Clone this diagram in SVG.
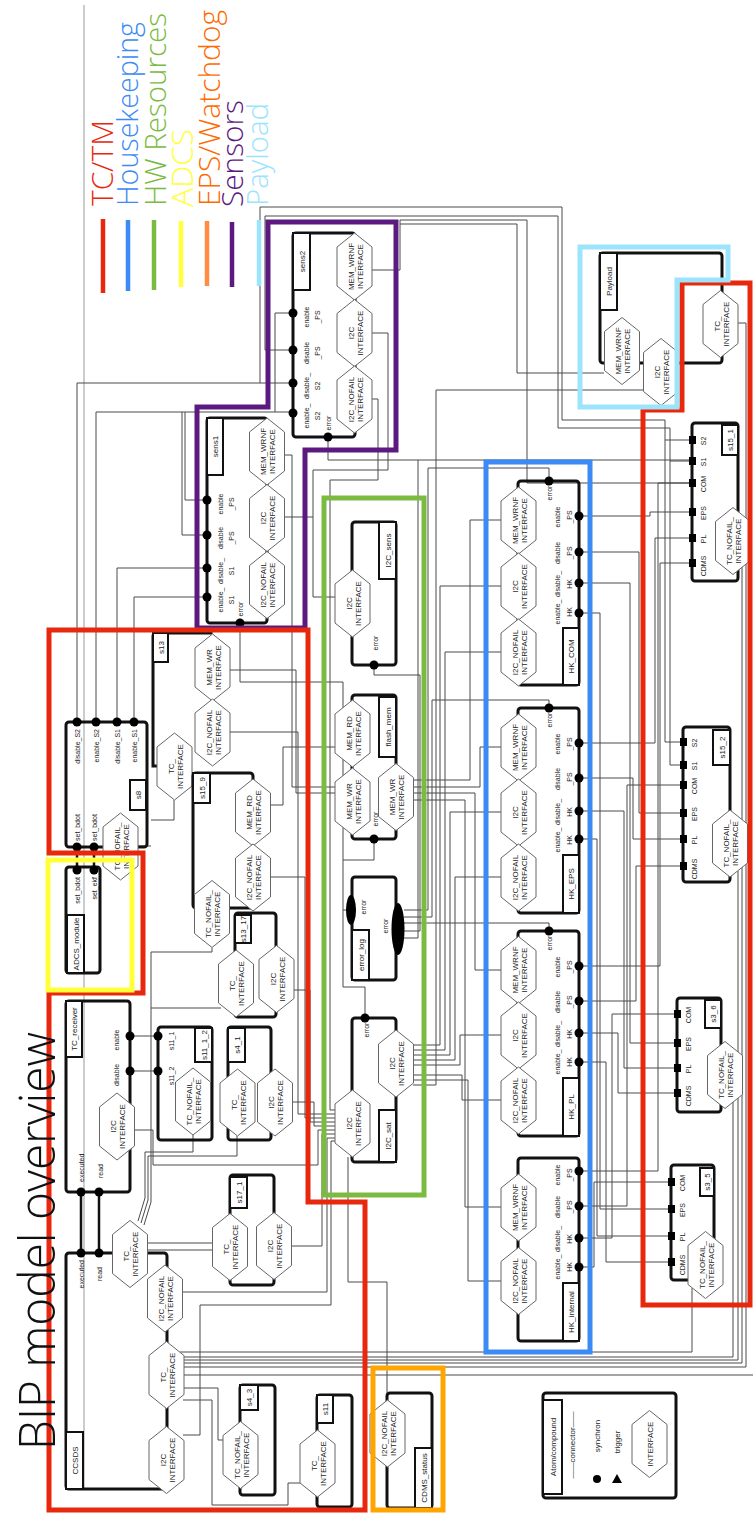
<svg xmlns="http://www.w3.org/2000/svg" width="753" height="1514" viewBox="0 0 753 1514">
<defs>
<style>
text{font-family:"Liberation Sans",Arial,sans-serif}
.big{font-family:"Open Sans","Liberation Sans",Arial,sans-serif;font-weight:300}
.w{fill:none;stroke:#4a4a4a;stroke-width:1}
.g{fill:none;stroke:#aaa;stroke-width:1.2}
.k{fill:none;stroke:#111;stroke-width:2.5}
.bx{fill:none;stroke:#111;stroke-width:3}
.tab{fill:#fff;stroke:#111;stroke-width:2}
.hx{fill:#fff;stroke:#666;stroke-width:1}
.t{font-size:8px;fill:#222;text-anchor:middle}
.pl{font-size:7px;fill:#222;text-anchor:middle}
.pe{font-size:7px;fill:#222;text-anchor:end}
.ps{font-size:7px;fill:#222;text-anchor:start}
.pd{fill:#000}
.reg{fill:none;stroke-width:5}
</style>
<polygon id="hx" points="0,-33.5 17.5,-19.5 17.5,19.5 0,33.5 -17.5,19.5 -17.5,-19.5"/>
</defs>
<rect width="753" height="1514" fill="#fff"/>

<g id="connectors">
<path class="g" d="M84,5V1489"/>
<path class="w" d="M77,722V383H293M96,722V412H293M117,722V568H207M134,722V597H207M207,500H185V412M207,535H182V412M293,313H275V412"/>
<path class="w" d="M260,383V207H562V420H665V742H683M665,440H692M293,350H265V216H558V428H670V765H683M670,461H692M372,270H400V224H517V373H604M400,224V220H527V483H692"/>
<path class="w" d="M372,333H388V470H313V597H335M284,517H313M372,399H378V480H330V1110H335M328,437V460H692"/>
<path class="w" d="M284,455H292V787H335M230,670H296V793H335M270,805H283V747H335"/>
<path class="w" d="M413,780H470V520H501M413,787H480V747H501M413,793H475V970H501M413,800H465V1207H501"/>
<path class="w" d="M413,1045H440V586H501M413,1050H445V652H501M413,1055H450V812H501M413,1060H455V877H501M413,1065H460V1035H501M413,1075H462V1100H501M413,1080H468V1281H501M413,1085H436V390H645"/>
<path class="w" d="M404,910H428V468H549V477M404,917H432V700H549V704M404,923H549V927M374,665V675H420V931H404M404,938H418V460M374,839V860H343V987H365V1014M343,910H346M240,623V682H343V860"/>
<path class="w" d="M579,516H650V512H692M579,552H639V813H683M579,583H630V1043H677M579,613H600V1209H671M579,743H655V538H692M579,778H633V839H683M579,811H624V1068H677M579,839H597V1236H671M579,966H660V563H692M579,1001H636V866H683M579,1033H618V1093H677M579,1062H606V1262H671M579,1171H658V483H692M579,1206H627V785H683M579,1238H612V1014H677M579,1267H594V1182H671"/>
<path class="w" d="M180,1352H692V1288M180,1357H733V1102M180,1360H738V871M180,1363H742V566M180,1367H746V323H738M180,1375H753"/>
<path class="w" d="M183,1388H218V1440H223M183,1400H212V1505H288V1483H300M183,1435H200V1305H331V1141H336M182,1292H327V1138H335M291,1246H322V1134H335M292,1102H314V1126H335M134,1130H153V1165H318V1130H335M293,990H310V1122H335M270,877H305V1118H335M230,732H298V1114H335"/>
<path class="w" d="M138,1221L145,1198V1152H193V1135M141,1223L148,1200V1156H237V1136M144,1225L151,1202V952H212V948M147,1243H213M147,1250H213M151,1008H221M138,846H151M174,800V820H151"/>
<path class="w" d="M387,1400V1282H348V1157M130,1036H158M130,1071H158"/>
<path class="k" d="M81,1192V1253M99,1192V1253M77,847V870M94,847V870"/>
</g>

<g id="sens2">
<rect class="bx" x="293" y="233" width="62" height="204" rx="3"/>
<rect class="tab" x="293" y="233" width="17" height="57"/>
<text class="t" transform="translate(304.5,261.5) rotate(-90)">sens2</text>
<use href="#hx" class="hx" x="354.5" y="266.5"/><text class="t" transform="translate(354.5,266.5) rotate(-90)"><tspan x="0" y="-1">MEM_WRNF</tspan><tspan x="0" y="8">INTERFACE</tspan></text>
<use href="#hx" class="hx" x="354.5" y="333"/><text class="t" transform="translate(354.5,333) rotate(-90)"><tspan x="0" y="-1">I2C</tspan><tspan x="0" y="8">INTERFACE</tspan></text>
<use href="#hx" class="hx" x="354.5" y="399.5"/><text class="t" transform="translate(354.5,399.5) rotate(-90)"><tspan x="0" y="-1">I2C_NOFAIL</tspan><tspan x="0" y="8">INTERFACE</tspan></text>
<circle class="pd" cx="293" cy="313" r="4.5"/><circle class="pd" cx="293" cy="350" r="4.5"/><circle class="pd" cx="293" cy="383" r="4.5"/><circle class="pd" cx="293" cy="413" r="4.5"/><circle class="pd" cx="328" cy="437" r="4.5"/>
<text class="pl" transform="translate(309,317) rotate(-90)"><tspan x="0">enable</tspan><tspan x="0" y="11">_PS</tspan></text>
<text class="pl" transform="translate(309,353) rotate(-90)"><tspan x="0">disable</tspan><tspan x="0" y="11">_PS</tspan></text>
<text class="pl" transform="translate(309,386) rotate(-90)"><tspan x="0">disable_</tspan><tspan x="0" y="11">S2</tspan></text>
<text class="pl" transform="translate(309,416) rotate(-90)"><tspan x="0">enable_</tspan><tspan x="0" y="11">S2</tspan></text>
<text class="pl" transform="translate(331,423) rotate(-90)">error</text>
</g>

<g id="sens1">
<rect class="bx" x="207" y="418" width="60" height="205" rx="3"/>
<rect class="tab" x="207" y="418" width="16" height="57"/>
<text class="t" transform="translate(218,446.5) rotate(-90)">sens1</text>
<use href="#hx" class="hx" x="267" y="451.5"/><text class="t" transform="translate(267,451.5) rotate(-90)"><tspan x="0" y="-1">MEM_WRNF</tspan><tspan x="0" y="8">INTERFACE</tspan></text>
<use href="#hx" class="hx" x="267" y="518"/><text class="t" transform="translate(267,518) rotate(-90)"><tspan x="0" y="-1">I2C</tspan><tspan x="0" y="8">INTERFACE</tspan></text>
<use href="#hx" class="hx" x="267" y="585"/><text class="t" transform="translate(267,585) rotate(-90)"><tspan x="0" y="-1">I2C_NOFAIL</tspan><tspan x="0" y="8">INTERFACE</tspan></text>
<circle class="pd" cx="207" cy="500" r="4.5"/><circle class="pd" cx="207" cy="535" r="4.5"/><circle class="pd" cx="207" cy="568" r="4.5"/><circle class="pd" cx="207" cy="597" r="4.5"/><circle class="pd" cx="240" cy="623" r="4.5"/>
<text class="pl" transform="translate(223,504) rotate(-90)"><tspan x="0">enable</tspan><tspan x="0" y="11">_PS</tspan></text>
<text class="pl" transform="translate(223,538) rotate(-90)"><tspan x="0">disable</tspan><tspan x="0" y="11">_PS</tspan></text>
<text class="pl" transform="translate(223,571) rotate(-90)"><tspan x="0">disable_</tspan><tspan x="0" y="11">S1</tspan></text>
<text class="pl" transform="translate(223,600) rotate(-90)"><tspan x="0">enable_</tspan><tspan x="0" y="11">S1</tspan></text>
<text class="pl" transform="translate(243,609) rotate(-90)">error</text>
</g>

<g id="Payload">
<rect class="bx" x="600" y="253" width="122" height="110" rx="3"/>
<rect class="tab" x="600" y="253" width="17" height="57"/>
<text class="t" transform="translate(611.5,281.5) rotate(-90)">Payload</text>
<use href="#hx" class="hx" x="622" y="351"/><text class="t" transform="translate(622,351) rotate(-90)"><tspan x="0" y="-1">MEM_WRNF</tspan><tspan x="0" y="8">INTERFACE</tspan></text>
<use href="#hx" class="hx" x="661" y="372"/><text class="t" transform="translate(661,372) rotate(-90)"><tspan x="0" y="-1">I2C</tspan><tspan x="0" y="8">INTERFACE</tspan></text>
<use href="#hx" class="hx" x="720.5" y="324"/><text class="t" transform="translate(720.5,324) rotate(-90)"><tspan x="0" y="-1">TC_</tspan><tspan x="0" y="8">INTERFACE</tspan></text>
</g>

<g id="s15_1">
<rect class="bx" x="692" y="423" width="46" height="158" rx="3"/>
<rect class="tab" x="722" y="425" width="16" height="30"/>
<text class="t" transform="translate(733,440) rotate(-90)">s15_1</text>
<use href="#hx" class="hx" x="733" y="541"/><text class="t" transform="translate(733,541) rotate(-90)"><tspan x="0" y="-1">TC_NOFAIL_</tspan><tspan x="0" y="8">INTERFACE</tspan></text>
<path class="pd" d="M689,436h7v8h-7zM689,457h7v8h-7zM689,479h7v8h-7zM689,508h7v8h-7zM689,534h7v8h-7zM689,559h7v8h-7z"/>
<text class="pl" transform="translate(706,441) rotate(-90)">S2</text><text class="pl" transform="translate(706,462) rotate(-90)">S1</text><text class="pl" transform="translate(706,484) rotate(-90)">COM</text><text class="pl" transform="translate(706,513) rotate(-90)">EPS</text><text class="pl" transform="translate(706,539) rotate(-90)">PL</text><text class="pl" transform="translate(706,566) rotate(-90)">CDMS</text>
</g>

<g id="s15_2">
<rect class="bx" x="683" y="727" width="47" height="155" rx="3"/>
<rect class="tab" x="713" y="730" width="17" height="35"/>
<text class="t" transform="translate(724.5,747.5) rotate(-90)">s15_2</text>
<use href="#hx" class="hx" x="730" y="843.5"/><text class="t" transform="translate(730,843.5) rotate(-90)"><tspan x="0" y="-1">TC_NOFAIL_</tspan><tspan x="0" y="8">INTERFACE</tspan></text>
<path class="pd" d="M680,738h7v8h-7zM680,761h7v8h-7zM680,781h7v8h-7zM680,809h7v8h-7zM680,835h7v8h-7zM680,862h7v8h-7z"/>
<text class="pl" transform="translate(697,743) rotate(-90)">S2</text><text class="pl" transform="translate(697,766) rotate(-90)">S1</text><text class="pl" transform="translate(697,786) rotate(-90)">COM</text><text class="pl" transform="translate(697,814) rotate(-90)">EPS</text><text class="pl" transform="translate(697,840) rotate(-90)">PL</text><text class="pl" transform="translate(697,869) rotate(-90)">CDMS</text>
</g>

<g id="s3_6">
<rect class="bx" x="677" y="998" width="44" height="114" rx="3"/>
<rect class="tab" x="705" y="1000" width="16" height="28"/>
<text class="t" transform="translate(716,1014) rotate(-90)">s3_6</text>
<use href="#hx" class="hx" x="725" y="1075"/><text class="t" transform="translate(725,1075) rotate(-90)"><tspan x="0" y="-1">TC_NOFAIL_</tspan><tspan x="0" y="8">INTERFACE</tspan></text>
<path class="pd" d="M674,1010h7v8h-7zM674,1039h7v8h-7zM674,1064h7v8h-7zM674,1089h7v8h-7z"/>
<text class="pl" transform="translate(691,1015) rotate(-90)">COM</text><text class="pl" transform="translate(691,1044) rotate(-90)">EPS</text><text class="pl" transform="translate(691,1069) rotate(-90)">PL</text><text class="pl" transform="translate(691,1096) rotate(-90)">CDMS</text>
</g>

<g id="s3_5">
<rect class="bx" x="671" y="1165" width="43" height="115" rx="3"/>
<rect class="tab" x="700" y="1168" width="14" height="28"/>
<text class="t" transform="translate(710,1182) rotate(-90)">s3_5</text>
<use href="#hx" class="hx" x="705.5" y="1265"/><text class="t" transform="translate(705.5,1265) rotate(-90)"><tspan x="0" y="-1">TC_NOFAIL_</tspan><tspan x="0" y="8">INTERFACE</tspan></text>
<path class="pd" d="M668,1178h7v8h-7zM668,1205h7v8h-7zM668,1232h7v8h-7zM668,1258h7v8h-7z"/>
<text class="pl" transform="translate(685,1183) rotate(-90)">COM</text><text class="pl" transform="translate(685,1210) rotate(-90)">EPS</text><text class="pl" transform="translate(685,1237) rotate(-90)">PL</text><text class="pl" transform="translate(685,1265) rotate(-90)">CDMS</text>
</g>

<g id="HK_COM">
<rect class="bx" x="518" y="481" width="61" height="204" rx="3"/>
<rect class="tab" x="563" y="628" width="16" height="57"/>
<text class="t" transform="translate(574,656.5) rotate(-90)">HK_COM</text>
<use href="#hx" class="hx" x="518.5" y="520.5"/><text class="t" transform="translate(518.5,520.5) rotate(-90)"><tspan x="0" y="-1">MEM_WRNF</tspan><tspan x="0" y="8">INTERFACE</tspan></text>
<use href="#hx" class="hx" x="518.5" y="586.5"/><text class="t" transform="translate(518.5,586.5) rotate(-90)"><tspan x="0" y="-1">I2C</tspan><tspan x="0" y="8">INTERFACE</tspan></text>
<use href="#hx" class="hx" x="518.5" y="652.5"/><text class="t" transform="translate(518.5,652.5) rotate(-90)"><tspan x="0" y="-1">I2C_NOFAIL</tspan><tspan x="0" y="8">INTERFACE</tspan></text>
<circle class="pd" cx="579" cy="516" r="4.5"/><circle class="pd" cx="579" cy="552" r="4.5"/><circle class="pd" cx="579" cy="583" r="4.5"/><circle class="pd" cx="579" cy="613" r="4.5"/><circle class="pd" cx="549" cy="481" r="4.5"/>
<text class="pl" transform="translate(560,517) rotate(-90)"><tspan x="0">enable</tspan><tspan x="0" y="12">_PS</tspan></text>
<text class="pl" transform="translate(560,553) rotate(-90)"><tspan x="0">disable</tspan><tspan x="0" y="12">_PS</tspan></text>
<text class="pl" transform="translate(560,584) rotate(-90)"><tspan x="0">disable_</tspan><tspan x="0" y="12">HK</tspan></text>
<text class="pl" transform="translate(560,612) rotate(-90)"><tspan x="0">enable_</tspan><tspan x="0" y="12">HK</tspan></text>
<text class="pl" transform="translate(552,493) rotate(-90)">error</text>
</g>

<g id="HK_EPS">
<rect class="bx" x="518" y="708" width="61" height="205" rx="3"/>
<rect class="tab" x="563" y="855" width="16" height="58"/>
<text class="t" transform="translate(574,884) rotate(-90)">HK_EPS</text>
<use href="#hx" class="hx" x="518.5" y="747.5"/><text class="t" transform="translate(518.5,747.5) rotate(-90)"><tspan x="0" y="-1">MEM_WRNF</tspan><tspan x="0" y="8">INTERFACE</tspan></text>
<use href="#hx" class="hx" x="518.5" y="812.5"/><text class="t" transform="translate(518.5,812.5) rotate(-90)"><tspan x="0" y="-1">I2C</tspan><tspan x="0" y="8">INTERFACE</tspan></text>
<use href="#hx" class="hx" x="518.5" y="877.5"/><text class="t" transform="translate(518.5,877.5) rotate(-90)"><tspan x="0" y="-1">I2C_NOFAIL</tspan><tspan x="0" y="8">INTERFACE</tspan></text>
<circle class="pd" cx="579" cy="743" r="4.5"/><circle class="pd" cx="579" cy="778" r="4.5"/><circle class="pd" cx="579" cy="811" r="4.5"/><circle class="pd" cx="579" cy="839" r="4.5"/><circle class="pd" cx="549" cy="708" r="4.5"/>
<text class="pl" transform="translate(560,744) rotate(-90)"><tspan x="0">enable</tspan><tspan x="0" y="12">_PS</tspan></text>
<text class="pl" transform="translate(560,779) rotate(-90)"><tspan x="0">disable</tspan><tspan x="0" y="12">_PS</tspan></text>
<text class="pl" transform="translate(560,812) rotate(-90)"><tspan x="0">disable_</tspan><tspan x="0" y="12">HK</tspan></text>
<text class="pl" transform="translate(560,840) rotate(-90)"><tspan x="0">enable_</tspan><tspan x="0" y="12">HK</tspan></text>
<text class="pl" transform="translate(552,720) rotate(-90)">error</text>
</g>

<g id="HK_PL">
<rect class="bx" x="518" y="931" width="61" height="205" rx="3"/>
<rect class="tab" x="563" y="1078" width="16" height="58"/>
<text class="t" transform="translate(574,1107) rotate(-90)">HK_PL</text>
<use href="#hx" class="hx" x="518.5" y="970"/><text class="t" transform="translate(518.5,970) rotate(-90)"><tspan x="0" y="-1">MEM_WRNF</tspan><tspan x="0" y="8">INTERFACE</tspan></text>
<use href="#hx" class="hx" x="518.5" y="1035.5"/><text class="t" transform="translate(518.5,1035.5) rotate(-90)"><tspan x="0" y="-1">I2C</tspan><tspan x="0" y="8">INTERFACE</tspan></text>
<use href="#hx" class="hx" x="518.5" y="1100.5"/><text class="t" transform="translate(518.5,1100.5) rotate(-90)"><tspan x="0" y="-1">I2C_NOFAIL</tspan><tspan x="0" y="8">INTERFACE</tspan></text>
<circle class="pd" cx="579" cy="966" r="4.5"/><circle class="pd" cx="579" cy="1001" r="4.5"/><circle class="pd" cx="579" cy="1033" r="4.5"/><circle class="pd" cx="579" cy="1062" r="4.5"/><circle class="pd" cx="549" cy="931" r="4.5"/>
<text class="pl" transform="translate(560,967) rotate(-90)"><tspan x="0">enable</tspan><tspan x="0" y="12">_PS</tspan></text>
<text class="pl" transform="translate(560,1002) rotate(-90)"><tspan x="0">disable</tspan><tspan x="0" y="12">_PS</tspan></text>
<text class="pl" transform="translate(560,1034) rotate(-90)"><tspan x="0">disable_</tspan><tspan x="0" y="12">HK</tspan></text>
<text class="pl" transform="translate(560,1062) rotate(-90)"><tspan x="0">enable_</tspan><tspan x="0" y="12">HK</tspan></text>
<text class="pl" transform="translate(552,943) rotate(-90)">error</text>
</g>

<g id="HK_internal">
<rect class="bx" x="518" y="1158" width="61" height="183" rx="3"/>
<rect class="tab" x="563" y="1283" width="16" height="58"/>
<text class="t" transform="translate(574,1312) rotate(-90)">HK_internal</text>
<use href="#hx" class="hx" x="518.5" y="1207.5"/><text class="t" transform="translate(518.5,1207.5) rotate(-90)"><tspan x="0" y="-1">MEM_WRNF</tspan><tspan x="0" y="8">INTERFACE</tspan></text>
<use href="#hx" class="hx" x="518.5" y="1281"/><text class="t" transform="translate(518.5,1281) rotate(-90)"><tspan x="0" y="-1">I2C_NOFAIL</tspan><tspan x="0" y="8">INTERFACE</tspan></text>
<circle class="pd" cx="579" cy="1171" r="4.5"/><circle class="pd" cx="579" cy="1206" r="4.5"/><circle class="pd" cx="579" cy="1238" r="4.5"/><circle class="pd" cx="579" cy="1267" r="4.5"/>
<text class="pl" transform="translate(560,1175) rotate(-90)"><tspan x="0">enable</tspan><tspan x="0" y="12">_PS</tspan></text>
<text class="pl" transform="translate(560,1207) rotate(-90)"><tspan x="0">disable</tspan><tspan x="0" y="12">_PS</tspan></text>
<text class="pl" transform="translate(560,1239) rotate(-90)"><tspan x="0">disable_</tspan><tspan x="0" y="12">HK</tspan></text>
<text class="pl" transform="translate(560,1267) rotate(-90)"><tspan x="0">enable_</tspan><tspan x="0" y="12">HK</tspan></text>
</g>

<g id="I2C_sens">
<rect class="bx" x="352" y="522" width="44" height="143" rx="3"/>
<rect class="tab" x="379" y="522" width="17" height="57"/>
<text class="t" transform="translate(390.5,550.5) rotate(-90)">I2C_sens</text>
<use href="#hx" class="hx" x="352.5" y="603.5"/><text class="t" transform="translate(352.5,603.5) rotate(-90)"><tspan x="0" y="-1">I2C</tspan><tspan x="0" y="8">INTERFACE</tspan></text>
<circle class="pd" cx="374" cy="665" r="4.5"/>
<text class="pl" transform="translate(378,643) rotate(-90)">error</text>
</g>

<g id="flash_mem">
<rect class="bx" x="352" y="695" width="44" height="144" rx="3"/>
<rect class="tab" x="379" y="697" width="17" height="60"/>
<text class="t" transform="translate(390.5,727) rotate(-90)">flash_mem</text>
<use href="#hx" class="hx" x="352.5" y="733.5"/><text class="t" transform="translate(352.5,733.5) rotate(-90)"><tspan x="0" y="-1">MEM_RD</tspan><tspan x="0" y="8">INTERFACE</tspan></text>
<use href="#hx" class="hx" x="352.5" y="801.5"/><text class="t" transform="translate(352.5,801.5) rotate(-90)"><tspan x="0" y="-1">MEM_WR</tspan><tspan x="0" y="8">INTERFACE</tspan></text>
<use href="#hx" class="hx" x="396" y="797"/><text class="t" transform="translate(396,797) rotate(-90)"><tspan x="0" y="-1">MEM_WR</tspan><tspan x="0" y="8">INTERFACE</tspan></text>
<circle class="pd" cx="374" cy="839" r="4.5"/>
<text class="pl" transform="translate(378,819) rotate(-90)">error</text>
</g>

<g id="error_log">
<rect class="bx" x="352" y="877" width="44" height="103" rx="3"/>
<rect class="tab" x="352" y="930" width="17" height="50"/>
<text class="t" transform="translate(363.5,955) rotate(-90)">error_log</text>
<ellipse cx="351" cy="910" rx="5" ry="15" fill="#000"/>
<ellipse cx="398" cy="929" rx="6.5" ry="26" fill="#000"/>
<text class="pl" transform="translate(366,907) rotate(-90)">error</text>
<text class="pl" transform="translate(388,926) rotate(-90)">error</text>
</g>

<g id="I2C_sat">
<rect class="bx" x="352" y="1018" width="44" height="144" rx="3"/>
<rect class="tab" x="379" y="1110" width="17" height="52"/>
<text class="t" transform="translate(390.5,1136) rotate(-90)">I2C_sat</text>
<use href="#hx" class="hx" x="396" y="1063.5"/><text class="t" transform="translate(396,1063.5) rotate(-90)"><tspan x="0" y="-1">I2C</tspan><tspan x="0" y="8">INTERFACE</tspan></text>
<use href="#hx" class="hx" x="352.5" y="1123.5"/><text class="t" transform="translate(352.5,1123.5) rotate(-90)"><tspan x="0" y="-1">I2C</tspan><tspan x="0" y="8">INTERFACE</tspan></text>
<circle class="pd" cx="365" cy="1018" r="4.5"/>
<text class="pl" transform="translate(369,1030) rotate(-90)">error</text>
</g>

<g id="s13">
<path class="bx" d="M212.5,633H156a3,3 0 0 0 -3,3V766H174.5"/>
<rect class="tab" x="153" y="633" width="15" height="29"/>
<text class="t" transform="translate(163.5,647.5) rotate(-90)">s13</text>
<use href="#hx" class="hx" x="212.5" y="667.5"/><text class="t" transform="translate(212.5,667.5) rotate(-90)"><tspan x="0" y="-1">MEM_WR</tspan><tspan x="0" y="8">INTERFACE</tspan></text>
<use href="#hx" class="hx" x="212.5" y="732.5"/><text class="t" transform="translate(212.5,732.5) rotate(-90)"><tspan x="0" y="-1">I2C_NOFAIL</tspan><tspan x="0" y="8">INTERFACE</tspan></text>
<use href="#hx" class="hx" x="174.5" y="766.5"/><text class="t" transform="translate(174.5,766.5) rotate(-90)"><tspan x="0" y="-1">TC_</tspan><tspan x="0" y="8">INTERFACE</tspan></text>
</g>

<g id="s15_9">
<rect class="bx" x="193" y="773" width="60" height="135" rx="3"/>
<rect class="tab" x="193" y="773" width="17" height="30"/>
<text class="t" transform="translate(204.5,788) rotate(-90)">s15_9</text>
<use href="#hx" class="hx" x="253" y="812.5"/><text class="t" transform="translate(253,812.5) rotate(-90)"><tspan x="0" y="-1">MEM_RD</tspan><tspan x="0" y="8">INTERFACE</tspan></text>
<use href="#hx" class="hx" x="253" y="877.5"/><text class="t" transform="translate(253,877.5) rotate(-90)"><tspan x="0" y="-1">I2C_NOFAIL</tspan><tspan x="0" y="8">INTERFACE</tspan></text>
<use href="#hx" class="hx" x="212" y="914"/><text class="t" transform="translate(212,914) rotate(-90)"><tspan x="0" y="-1">TC_NOFAIL_</tspan><tspan x="0" y="8">INTERFACE</tspan></text>
</g>

<g id="s13_17">
<rect class="bx" x="235" y="913" width="41" height="104" rx="3"/>
<rect class="tab" x="235" y="915" width="16" height="28"/>
<text class="t" transform="translate(246,929) rotate(-90)">s13_17</text>
<use href="#hx" class="hx" x="236" y="983.5"/><text class="t" transform="translate(236,983.5) rotate(-90)"><tspan x="0" y="-1">TC_</tspan><tspan x="0" y="8">INTERFACE</tspan></text>
<use href="#hx" class="hx" x="276.5" y="979"/><text class="t" transform="translate(276.5,979) rotate(-90)"><tspan x="0" y="-1">I2C</tspan><tspan x="0" y="8">INTERFACE</tspan></text>
</g>

<g id="s8">
<rect class="bx" x="66" y="722" width="81" height="125" rx="3"/>
<rect class="tab" x="130" y="780" width="16" height="30"/>
<text class="t" transform="translate(141,795) rotate(-90)">s8</text>
<use href="#hx" class="hx" x="120.5" y="846.5"/><text class="t" transform="translate(120.5,846.5) rotate(-90)"><tspan x="0" y="-1">TC_NOFAIL_</tspan><tspan x="0" y="8">INTERFACE</tspan></text>
<circle class="pd" cx="77" cy="722" r="4.5"/><circle class="pd" cx="96" cy="722" r="4.5"/><circle class="pd" cx="117" cy="722" r="4.5"/><circle class="pd" cx="134" cy="722" r="4.5"/>
<circle class="pd" cx="77" cy="847" r="4.5"/><circle class="pd" cx="94" cy="847" r="4.5"/>
<text class="pe" transform="translate(80,729) rotate(-90)">disable_S2</text>
<text class="pe" transform="translate(99,729) rotate(-90)">enable_S2</text>
<text class="pe" transform="translate(120,729) rotate(-90)">disable_S1</text>
<text class="pe" transform="translate(137,729) rotate(-90)">enable_S1</text>
<text class="ps" transform="translate(80,841) rotate(-90)">set_bdot</text>
<text class="ps" transform="translate(97,841) rotate(-90)">set_bdot</text>
</g>

<g id="ADCS_module">
<rect class="bx" x="66" y="867" width="34" height="106" rx="3"/>
<rect class="tab" x="67" y="915" width="17" height="58"/>
<text class="t" transform="translate(78.5,944) rotate(-90)">ADCS_module</text>
<circle class="pd" cx="77" cy="870" r="4.5"/><circle class="pd" cx="94" cy="870" r="4.5"/>
<text class="pe" transform="translate(80,877) rotate(-90)">set_bdot</text>
<text class="pe" transform="translate(97,877) rotate(-90)">set_ekf</text>
</g>

<g id="TC_receiver">
<rect class="bx" x="66" y="1001" width="64" height="191" rx="3"/>
<rect class="tab" x="66" y="1001" width="16" height="56"/>
<text class="t" transform="translate(77,1029) rotate(-90)">TC_receiver</text>
<use href="#hx" class="hx" x="117" y="1126.5"/><text class="t" transform="translate(117,1126.5) rotate(-90)"><tspan x="0" y="-1">I2C</tspan><tspan x="0" y="8">INTERFACE</tspan></text>
<circle class="pd" cx="130" cy="1036" r="4.5"/><circle class="pd" cx="130" cy="1071" r="4.5"/><circle class="pd" cx="81" cy="1192" r="4.5"/><circle class="pd" cx="99" cy="1192" r="4.5"/>
<text class="pl" transform="translate(119,1040) rotate(-90)">enable</text>
<text class="pl" transform="translate(119,1075) rotate(-90)">disable</text>
<text class="ps" transform="translate(84,1182) rotate(-90)">executed</text>
<text class="ps" transform="translate(103,1178) rotate(-90)">read</text>
</g>

<g id="CCSDS">
<rect class="bx" x="66" y="1253" width="101" height="236" rx="3"/>
<rect class="tab" x="66" y="1432" width="17" height="57"/>
<text class="t" transform="translate(77.5,1460.5) rotate(-90)">CCSDS</text>
<use href="#hx" class="hx" x="130" y="1254"/><text class="t" transform="translate(130,1254) rotate(-90)"><tspan x="0" y="-1">TC_</tspan><tspan x="0" y="8">INTERFACE</tspan></text>
<use href="#hx" class="hx" x="165" y="1298.5"/><text class="t" transform="translate(165,1298.5) rotate(-90)"><tspan x="0" y="-1">I2C_NOFAIL</tspan><tspan x="0" y="8">INTERFACE</tspan></text>
<use href="#hx" class="hx" x="166.5" y="1375"/><text class="t" transform="translate(166.5,1375) rotate(-90)"><tspan x="0" y="-1">TC_</tspan><tspan x="0" y="8">INTERFACE</tspan></text>
<use href="#hx" class="hx" x="166.5" y="1460"/><text class="t" transform="translate(166.5,1460) rotate(-90)"><tspan x="0" y="-1">I2C</tspan><tspan x="0" y="8">INTERFACE</tspan></text>
<circle class="pd" cx="81" cy="1253" r="4.5"/><circle class="pd" cx="99" cy="1253" r="4.5"/>
<text class="pe" transform="translate(84,1260) rotate(-90)">executed</text>
<text class="pe" transform="translate(102,1267) rotate(-90)">read</text>
</g>

<g id="s11_1_2">
<rect class="bx" x="158" y="1027" width="54" height="113" rx="3"/>
<rect class="tab" x="195" y="1028" width="17" height="34"/>
<text class="t" transform="translate(206.5,1045) rotate(-90)">s11_1_2</text>
<use href="#hx" class="hx" x="193" y="1101.5"/><text class="t" transform="translate(193,1101.5) rotate(-90)"><tspan x="0" y="-1">TC_NOFAIL_</tspan><tspan x="0" y="8">INTERFACE</tspan></text>
<circle class="pd" cx="158" cy="1036" r="4.5"/><circle class="pd" cx="158" cy="1071" r="4.5"/>
<text class="pl" transform="translate(174,1041) rotate(-90)">s11_1</text>
<text class="pl" transform="translate(174,1076) rotate(-90)">s11_2</text>
</g>

<g id="s4_1">
<rect class="bx" x="228" y="1027" width="43" height="113" rx="3"/>
<rect class="tab" x="228" y="1028" width="17" height="34"/>
<text class="t" transform="translate(239.5,1045) rotate(-90)">s4_1</text>
<use href="#hx" class="hx" x="237.5" y="1102.5"/><text class="t" transform="translate(237.5,1102.5) rotate(-90)"><tspan x="0" y="-1">TC_</tspan><tspan x="0" y="8">INTERFACE</tspan></text>
<use href="#hx" class="hx" x="275" y="1102.5"/><text class="t" transform="translate(275,1102.5) rotate(-90)"><tspan x="0" y="-1">I2C</tspan><tspan x="0" y="8">INTERFACE</tspan></text>
</g>

<g id="s17_1">
<rect class="bx" x="230" y="1175" width="44" height="110" rx="3"/>
<rect class="tab" x="230" y="1177" width="17" height="31"/>
<text class="t" transform="translate(241.5,1192.5) rotate(-90)">s17_1</text>
<use href="#hx" class="hx" x="230" y="1247"/><text class="t" transform="translate(230,1247) rotate(-90)"><tspan x="0" y="-1">TC_</tspan><tspan x="0" y="8">INTERFACE</tspan></text>
<use href="#hx" class="hx" x="274" y="1246"/><text class="t" transform="translate(274,1246) rotate(-90)"><tspan x="0" y="-1">I2C</tspan><tspan x="0" y="8">INTERFACE</tspan></text>
</g>

<g id="s4_3">
<rect class="bx" x="240" y="1385" width="35" height="110" rx="3"/>
<rect class="tab" x="240" y="1385" width="18" height="25"/>
<text class="t" transform="translate(252,1397.5) rotate(-90)">s4_3</text>
<use href="#hx" class="hx" x="240.5" y="1455"/><text class="t" transform="translate(240.5,1455) rotate(-90)"><tspan x="0" y="-1">TC_NOFAIL_</tspan><tspan x="0" y="8">INTERFACE</tspan></text>
</g>

<g id="s11">
<rect class="bx" x="317" y="1395" width="35" height="112" rx="3"/>
<rect class="tab" x="317" y="1395" width="16" height="28"/>
<text class="t" transform="translate(328,1409) rotate(-90)">s11</text>
<use href="#hx" class="hx" x="317.5" y="1463.5"/><text class="t" transform="translate(317.5,1463.5) rotate(-90)"><tspan x="0" y="-1">TC_</tspan><tspan x="0" y="8">INTERFACE</tspan></text>
</g>

<g id="CDMS_status">
<rect class="bx" x="387" y="1393" width="45" height="115" rx="3"/>
<rect class="tab" x="415" y="1448" width="17" height="60"/>
<text class="t" transform="translate(426.5,1478) rotate(-90)">CDMS_status</text>
<use href="#hx" class="hx" x="387.5" y="1433.5"/><text class="t" transform="translate(387.5,1433.5) rotate(-90)"><tspan x="0" y="-1">I2C_NOFAIL</tspan><tspan x="0" y="8">INTERFACE</tspan></text>
</g>

<g id="regions">
<polygon class="reg" stroke="#5c1a80" points="268,222 396,222 396,450 305,450 305,628 197,628 197,407 268,407"/>
<polygon class="reg" stroke="#e8280c" points="49,630 308,630 308,1202 365,1202 365,1510 49,1510 49,993 143,993 143,853 49,853"/>
<rect class="reg" stroke="#ffff3a" x="48" y="860" width="84" height="130"/>
<rect class="reg" stroke="#7bbb42" x="324" y="498" width="100" height="697"/>
<rect class="reg" stroke="#3b8af5" x="486" y="462" width="104" height="890"/>
<polygon class="reg" stroke="#e8280c" points="682,283 750,283 750,1305 643,1305 643,410 682,410"/>
<polygon class="reg" stroke="#9ce4fb" points="580,247 728,247 728,280 677,280 677,407 580,407"/>
<rect class="reg" stroke="#ffa500" x="373" y="1368" width="70" height="142"/>
</g>

<g id="legend">
<rect class="bx" x="543" y="1393" width="133" height="105" rx="3"/>
<rect class="tab" x="543" y="1400" width="19" height="94"/>
<text class="t" transform="translate(555.5,1447) rotate(-90)">Atom/compound</text>
<text class="t" transform="translate(575,1445) rotate(-90)">——connector——</text>
<text class="t" transform="translate(600,1436) rotate(-90)">synchron</text>
<text class="t" transform="translate(620,1442) rotate(-90)">trigger</text>
<circle cx="597" cy="1479" r="4" fill="#000"/>
<polygon points="617,1474 622,1483 612,1483" fill="#000"/>
<use href="#hx" class="hx" x="649.5" y="1444"/>
<text class="t" transform="translate(652.5,1444) rotate(-90)">INTERFACE</text>
</g>

<g id="key">
<text class="big" transform="translate(113,206) rotate(-90)" font-size="29" fill="#e8280c" textLength="86" lengthAdjust="spacingAndGlyphs">TC/TM</text>
<text class="big" transform="translate(138,206) rotate(-90)" font-size="29" fill="#3b8af5" textLength="184" lengthAdjust="spacingAndGlyphs">Housekeeping</text>
<text class="big" transform="translate(166,206) rotate(-90)" font-size="29" fill="#7bbb42" textLength="193" lengthAdjust="spacingAndGlyphs">HW Resources</text>
<text class="big" transform="translate(193,207) rotate(-90)" font-size="29" fill="#ffff3a" textLength="78" lengthAdjust="spacingAndGlyphs">ADCS</text>
<text class="big" transform="translate(220,206) rotate(-90)" font-size="29" fill="#ff6a00" textLength="196" lengthAdjust="spacingAndGlyphs">EPS/Watchdog</text>
<text class="big" transform="translate(243,207) rotate(-90)" font-size="29" fill="#5c1a80" textLength="107" lengthAdjust="spacingAndGlyphs">Sensors</text>
<text class="big" transform="translate(268,206) rotate(-90)" font-size="29" fill="#9ce4fb" textLength="103" lengthAdjust="spacingAndGlyphs">Payload</text>
<path stroke-width="4.5" d="M103,219V293" stroke="#e8280c"/>
<path stroke-width="4.5" d="M128,220V291" stroke="#3b8af5"/>
<path stroke-width="4.5" d="M154,220V290" stroke="#7bbb42"/>
<path stroke-width="4.5" d="M181,221V287" stroke="#ffff3a"/>
<path stroke-width="4.5" d="M207,221V286" stroke="#ff8c42"/>
<path stroke-width="4.5" d="M232,222V287" stroke="#5c1a80"/>
<path stroke-width="4.5" d="M259,220V286" stroke="#9ce4fb"/>
</g>

<text id="title" class="big" transform="translate(55,1450) rotate(-90)" font-size="50" fill="#111" textLength="418" lengthAdjust="spacingAndGlyphs">BIP model overview</text>
</svg>
